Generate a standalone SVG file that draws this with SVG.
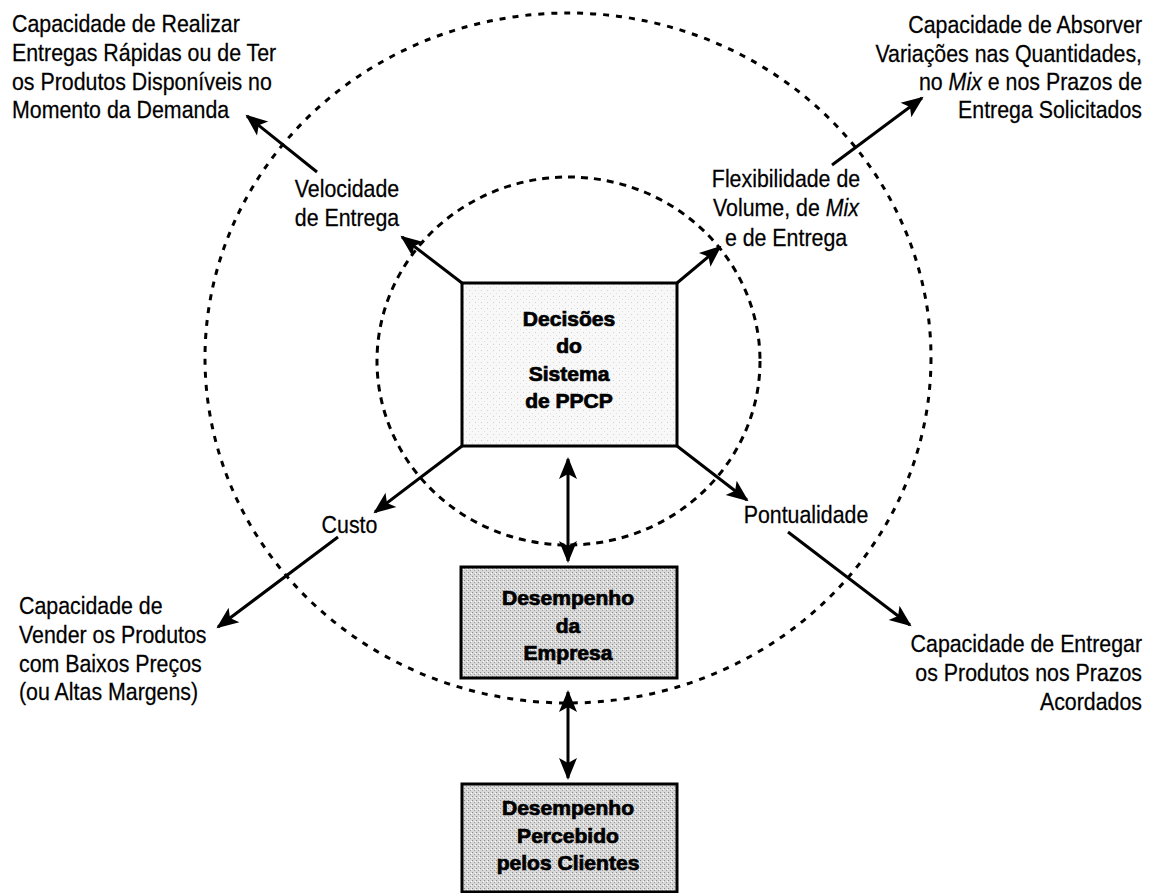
<svg xmlns="http://www.w3.org/2000/svg" width="1150" height="893" viewBox="0 0 1150 893">
  <style>
    .lbl { font-family: "Liberation Sans", Arial, sans-serif; font-size: 24px; fill: #000; stroke: #000; stroke-width: 0.25; }
    .box-txt { font-family: "Liberation Sans", Arial, sans-serif; font-size: 19.5px; font-weight: bold; fill: #000; stroke: #000; stroke-width: 0.7; text-anchor: middle; }
    .ring { fill: none; stroke: #000; stroke-width: 3; }
    .conn { fill: none; stroke: #000; stroke-width: 3; }
    .box { stroke: #000; stroke-width: 3; }
    .it { font-style: italic; }
  </style>
  <defs>
    <marker id="head" markerUnits="userSpaceOnUse" markerWidth="30" markerHeight="30" refX="-2" refY="0" orient="auto-start-reverse" overflow="visible">
      <path d="M0,0 L-22,-9 L-17,0 L-22,9 Z" fill="#000"/>
    </marker>
    <pattern id="halftone" width="4" height="4" patternUnits="userSpaceOnUse">
      <rect width="4" height="4" fill="#d8d8d8"/>
      <rect x="0" y="0" width="1" height="1" fill="#8c8c8c"/>
      <rect x="2" y="2" width="1" height="1" fill="#a0a0a0"/>
      <rect x="3" y="1" width="1" height="1" fill="#ffffff"/>
    </pattern>
    <pattern id="faint" width="6" height="6" patternUnits="userSpaceOnUse">
      <rect width="6" height="6" fill="#f8f8f8"/>
      <rect x="1" y="2" width="1" height="1" fill="#d0d0d0"/>
      <rect x="4" y="5" width="1" height="1" fill="#e0e0e0"/>
    </pattern>
  </defs>

  <rect width="1150" height="893" fill="#fff"/>

  <!-- dashed rings -->
  <g id="rings">
    <ellipse class="ring" cx="568" cy="358" rx="363" ry="345" stroke-dasharray="6 7"/>
    <ellipse class="ring" cx="568.5" cy="361" rx="191.5" ry="184" stroke-dasharray="7 6"/>
  </g>

  <!-- connectors -->
  <g id="connectors">
    <line class="conn" x1="462" y1="283" x2="402" y2="237" marker-end="url(#head)"/>
    <line class="conn" x1="317" y1="172" x2="247" y2="116" marker-end="url(#head)"/>
    <line class="conn" x1="677" y1="283" x2="720" y2="247" marker-end="url(#head)"/>
    <line class="conn" x1="832" y1="165" x2="922" y2="98" marker-end="url(#head)"/>
    <line class="conn" x1="462" y1="446" x2="375" y2="512" marker-end="url(#head)"/>
    <line class="conn" x1="338" y1="537" x2="218" y2="627" marker-end="url(#head)"/>
    <line class="conn" x1="677" y1="446" x2="747" y2="500" marker-end="url(#head)"/>
    <line class="conn" x1="788" y1="532" x2="910" y2="625" marker-end="url(#head)"/>
    <line class="conn" x1="568" y1="459" x2="568" y2="561" marker-start="url(#head)" marker-end="url(#head)"/>
    <line class="conn" x1="568" y1="692" x2="568" y2="778" marker-start="url(#head)" marker-end="url(#head)"/>
  </g>

  <!-- central decision box -->
  <g id="node-decisoes">
    <rect class="box" x="462" y="283" width="215" height="163" fill="url(#faint)"/>
    <g transform="translate(569,0) scale(1.08,1)">
      <text class="box-txt" x="0" y="326">Decisões</text>
      <text class="box-txt" x="0" y="353.5">do</text>
      <text class="box-txt" x="0" y="381">Sistema</text>
      <text class="box-txt" x="0" y="408.5">de PPCP</text>
    </g>
  </g>

  <g id="node-empresa">
    <rect class="box" x="461" y="567" width="216" height="111" fill="url(#halftone)"/>
    <g transform="translate(568,0) scale(1.08,1)">
      <text class="box-txt" x="0" y="605">Desempenho</text>
      <text class="box-txt" x="0" y="633">da</text>
      <text class="box-txt" x="0" y="660">Empresa</text>
    </g>
  </g>

  <g id="node-clientes">
    <rect class="box" x="462" y="784" width="215" height="108" fill="url(#halftone)"/>
    <g transform="translate(568,0) scale(1.08,1)">
      <text class="box-txt" x="0" y="815">Desempenho</text>
      <text class="box-txt" x="0" y="843">Percebido</text>
      <text class="box-txt" x="0" y="870">pelos Clientes</text>
    </g>
  </g>

  <!-- performance criteria labels -->
  <g id="node-velocidade" transform="translate(347,0) scale(0.89,1)">
    <text class="lbl" x="0" y="197" text-anchor="middle">Velocidade</text>
    <text class="lbl" x="0" y="226" text-anchor="middle">de Entrega</text>
  </g>

  <g id="node-flexibilidade" transform="translate(786,0) scale(0.89,1)">
    <text class="lbl" x="0" y="187" text-anchor="middle">Flexibilidade de</text>
    <text class="lbl" x="0" y="216" text-anchor="middle">Volume, de <tspan class="it">Mix</tspan></text>
    <text class="lbl" x="0" y="246" text-anchor="middle">e de Entrega</text>
  </g>

  <g id="node-custo" transform="translate(349.5,0) scale(0.89,1)">
    <text class="lbl" x="0" y="533" text-anchor="middle">Custo</text>
  </g>

  <g id="node-pontualidade" transform="translate(806,0) scale(0.89,1)">
    <text class="lbl" x="0" y="523" text-anchor="middle">Pontualidade</text>
  </g>

  <!-- outer capability labels -->
  <g id="node-cap-entregas" transform="translate(12,0) scale(0.89,1)">
    <text class="lbl" x="0" y="32">Capacidade de Realizar</text>
    <text class="lbl" x="0" y="61">Entregas Rápidas ou de Ter</text>
    <text class="lbl" x="0" y="90">os Produtos Disponíveis no</text>
    <text class="lbl" x="0" y="118">Momento da Demanda</text>
  </g>

  <g id="node-cap-absorver" transform="translate(1142,0) scale(0.89,1)">
    <text class="lbl" x="0" y="33" text-anchor="end">Capacidade de Absorver</text>
    <text class="lbl" x="0" y="62" text-anchor="end">Variações nas Quantidades,</text>
    <text class="lbl" x="0" y="90" text-anchor="end">no <tspan class="it">Mix</tspan> e nos Prazos de</text>
    <text class="lbl" x="0" y="118" text-anchor="end">Entrega Solicitados</text>
  </g>

  <g id="node-cap-vender" transform="translate(19,0) scale(0.89,1)">
    <text class="lbl" x="0" y="614">Capacidade de</text>
    <text class="lbl" x="0" y="643">Vender os Produtos</text>
    <text class="lbl" x="0" y="672">com Baixos Preços</text>
    <text class="lbl" x="0" y="700">(ou Altas Margens)</text>
  </g>

  <g id="node-cap-prazos" transform="translate(1142,0) scale(0.89,1)">
    <text class="lbl" x="0" y="652" text-anchor="end">Capacidade de Entregar</text>
    <text class="lbl" x="0" y="681" text-anchor="end">os Produtos nos Prazos</text>
    <text class="lbl" x="0" y="710" text-anchor="end">Acordados</text>
  </g>
</svg>
